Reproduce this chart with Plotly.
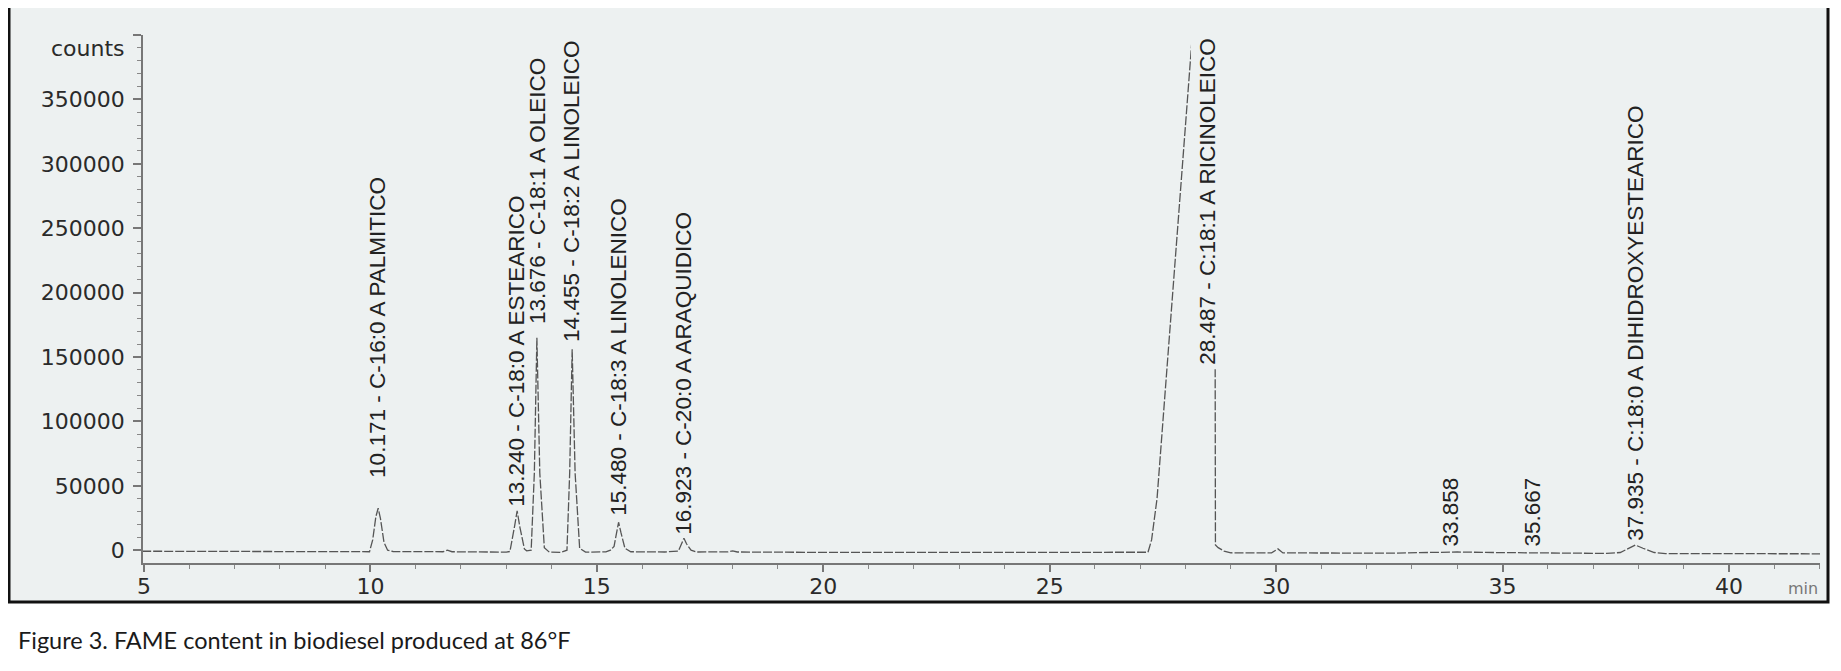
import plotly.graph_objects as go

# ---- data (retention time in min, counts) ----
time_min = [4.96, 7.0, 9.9, 9.98, 10.05, 10.12, 10.171, 10.22, 10.30, 10.38, 10.5,
            11.6, 11.7, 11.8, 13.0,
            13.08, 13.18, 13.24, 13.30, 13.40, 13.45,
            13.55, 13.62, 13.676, 13.74, 13.84, 13.95, 14.2,
            14.34, 14.40, 14.455, 14.52, 14.62, 14.75,
            15.2, 15.3, 15.38, 15.44, 15.48, 15.53, 15.62, 15.75,
            16.2, 16.5, 16.80, 16.88, 16.923, 16.98, 17.08, 17.2,
            17.9, 18.0, 18.1, 20.0, 25.0, 27.1,
            27.17, 27.25, 27.37, 28.15, 28.3, 28.64, 28.66, 28.72, 28.85, 29.0,
            29.9, 30.04, 30.15, 32.5, 33.5, 34.0, 34.8, 36.0, 37.3,
            37.6, 37.8, 37.935, 38.1, 38.35, 38.6, 42.05]
counts = [-800, -1000, -1300, -1200, 8000, 26000, 32600, 25000, 6000, 0, -1000,
          -1200, 0, -1200, -1500,
          -1000, 18000, 30500, 18000, 1000, -500,
          0, 60000, 165000, 60000, 2000, -1500, -1700,
          0, 60000, 156000, 60000, 1500, -1500,
          -1300, 0, 3000, 15000, 21700, 14000, 1500, -1200,
          -1600, -1400, -700, 5000, 9300, 5000, 0, -1400,
          -1300, -500, -1400, -1700, -1900, -2000,
          -1600, 8000, 40000, 400000, 460000, 460000, 4000, 2000, -700, -2000,
          -2100, 1000, -2100, -2300, -1600, -1400, -1800, -2400, -2500,
          -1800, 1500, 4000, 1500, -1800, -2600, -2800]

peak_rt = [10.171, 13.240, 13.676, 14.455, 15.480, 16.923, 28.487, 33.858, 35.667, 37.935]
peak_labels = ["10.171 - C-16:0 A PALMITICO",
               "13.240 - C-18:0 A ESTEARICO",
               "13.676 - C-18:1 A OLEICO",
               "14.455 - C-18:2 A LINOLEICO",
               "15.480 - C-18:3 A LINOLENICO",
               "16.923 - C-20:0 A ARAQUIDICO",
               "28.487 - C:18:1 A RICINOLEICO",
               "33.858",
               "35.667",
               "37.935 - C:18:0 A DIHIDROXYESTEARICO"]
label_base = [55100, 32600, 174700, 160700, 25600, 11600, 139800, 2300, 2300, 6500]

y_ticks = [0, 50000, 100000, 150000, 200000, 250000, 300000, 350000, 400000]
y_ticktext = ["0", "50000", "100000", "150000", "200000", "250000", "300000", "350000", ""]
x_ticks = [5, 10, 15, 20, 25, 30, 35, 40]

caption = "Figure 3. FAME content in biodiesel produced at 86°F"

BG = "#edf1f1"
OFF = 8                      # page body margin of the browser
W, H = 1825, 655
L, T = 135, 27
pw, ph = 1677, 528
R, B = W - L - pw, H - T - ph


def px_x(px):
    """reference-page x pixel -> paper coordinate"""
    return (px - OFF - L) / pw


def px_y(py):
    """reference-page y pixel -> paper coordinate"""
    return (T + ph - (py - OFF)) / ph


fig = go.Figure()
fig.add_trace(go.Scatter(x=time_min, y=counts, mode="lines",
                         line=dict(color="#555555", width=1.3, dash="9px,2px"),
                         hoverinfo="skip", showlegend=False))

for rt, txt, yb in zip(peak_rt, peak_labels, label_base):
    fig.add_annotation(x=rt, y=yb, text=txt, textangle=-90, showarrow=False,
                       xanchor="center", yanchor="bottom",
                       font=dict(family="Liberation Sans, Arial", size=22.5, color="#222222"),
                       bgcolor=BG if rt == 28.487 else None,
                       borderpad=4 if rt == 28.487 else 0)

axis_font = dict(family="DejaVu Sans", size=22, color="#2a2a2a")
fig.update_xaxes(range=[4.978, 42.01], tickvals=x_ticks, showgrid=False, zeroline=False,
                 showline=True, linecolor="#777777", linewidth=1.5,
                 ticks="outside", ticklen=7, tickwidth=1.5, tickcolor="#777777",
                 minor=dict(dtick=1, ticks="outside", ticklen=4, tickcolor="#888888", tickwidth=1.2),
                 tickfont=axis_font, ticklabelstandoff=-4)
fig.update_yaxes(range=[-9940, 400000], tickvals=y_ticks, ticktext=y_ticktext,
                 showgrid=False, zeroline=False,
                 showline=True, linecolor="#777777", linewidth=1.5,
                 ticks="outside", ticklen=8, tickwidth=1.5, tickcolor="#777777",
                 minor=dict(dtick=10000, ticks="outside", ticklen=4, tickcolor="#888888", tickwidth=1.2),
                 tickfont=axis_font, ticklabelstandoff=4)

fig.add_shape(type="rect", xref="paper", yref="paper",
              x0=px_x(9), x1=px_x(1828), y0=px_y(602), y1=px_y(5),
              fillcolor=BG, line=dict(color="#111111", width=3), layer="below")

fig.add_annotation(xref="paper", yref="paper", x=px_x(127), y=px_y(49), text="counts",
                   showarrow=False, xanchor="right", yanchor="middle", font=axis_font)
fig.add_annotation(xref="paper", yref="paper", x=px_x(1803), y=px_y(588), text="min",
                   showarrow=False, xanchor="center", yanchor="middle",
                   font=dict(family="DejaVu Sans", size=16, color="#777777"))
fig.add_annotation(xref="paper", yref="paper", x=px_x(16), y=px_y(640), text=caption,
                   showarrow=False, xanchor="left", yanchor="middle",
                   font=dict(family="Lato", size=23.5, color="#1a1a1a"))

fig.update_layout(width=W, height=H, margin=dict(l=L, r=R, t=T, b=B),
                  paper_bgcolor="white", plot_bgcolor=BG)

fig.write_html("out.html")
